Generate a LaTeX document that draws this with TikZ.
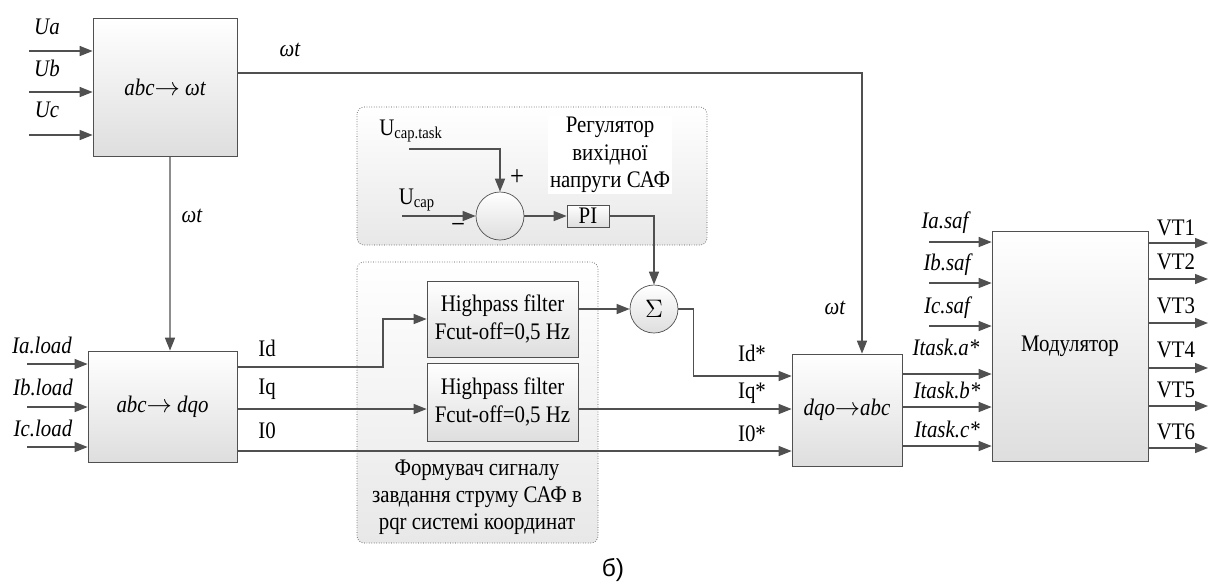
\documentclass[tikz,border=0pt]{standalone}
\usepackage{fontspec}
\setmainfont{Liberation Serif}[FakeStretch=0.88]
\newfontfamily\capfont{Liberation Sans}
\usepackage{tikz}
\usetikzlibrary{shapes, arrows.meta, positioning, calc}
\definecolor{wiregray}{RGB}{80, 80, 80}
\definecolor{shadegray}{RGB}{222, 222, 222}

\begin{document}
\begin{tikzpicture}[
  x=0.02cm, y=-0.02cm,
  blk/.style={draw=wiregray, top color=white, bottom color=shadegray, inner sep=0pt, font=\fontsize{13.5}{15.5}\selectfont, align=center},
  grp/.style={draw=wiregray, densely dotted, rounded corners=4pt, top color=white, bottom color=shadegray!70},
  sumc/.style={circle, draw=wiregray, top color=white, bottom color=shadegray, minimum size=0.96cm, inner sep=0pt, font=\fontsize{15}{17}\selectfont},
  lbl/.style={font=\fontsize{13.5}{15.5}\selectfont, inner sep=1pt},
  ilbl/.style={lbl, font=\fontsize{13.5}{15.5}\selectfont\itshape},
  sig/.style={draw=wiregray, thick, -{Triangle[length=2.6mm, width=2mm]}, fill=none},
  wire/.style={draw=wiregray, thick}
]
  \useasboundingbox (0,0) rectangle (1208,583);

  % groups
  \draw[grp] (357,107) rectangle (707,245);
  \draw[grp] (357,262) rectangle (598,543);
  \node[lbl, fill=white, align=center] (regtxt) at (610,155) {Регулятор\\вихідної\\напруги САФ};
  \node[lbl, align=center] (formtxt) at (477,497) {Формувач сигналу\\завдання струму САФ в\\pqr системі координат};

  % blocks
  \node[blk, minimum width=2.88cm, minimum height=2.76cm] (abcwt) at (165,87) {\itshape abc$\rightarrow$ ωt};
  \node[blk, minimum width=2.98cm, minimum height=2.22cm] (abcdqo) at (162.5,406.5) {\itshape abc$\rightarrow$ dqo};
  \node[blk, minimum width=3.02cm, minimum height=1.52cm] (hpf1) at (502.5,319) {Highpass filter\\Fcut-off=0,5 Hz};
  \node[blk, minimum width=3.02cm, minimum height=1.56cm] (hpf2) at (502.5,402) {Highpass filter\\Fcut-off=0,5 Hz};
  \node[blk, minimum width=2.2cm, minimum height=2.24cm] (dqoabc) at (847,410) {\itshape dqo$\rightarrow$abc};
  \node[blk, minimum width=3.12cm, minimum height=4.6cm] (mod) at (1070,346) {Модулятор};
  \node[blk, minimum width=0.84cm, minimum height=0.44cm] (pi) at (588,216) {PI};
  \node[sumc] (diff) at (500,216) {};
  \node[sumc] (sum) at (654,309) {$\Sigma$};

  % inputs of abc->wt
  \foreach \y/\n in {51/a, 92/b, 135/c} {
    \coordinate (u\n) at (29,\y);
    \draw[sig] (u\n) -- (u\n -| abcwt.west);
  }
  \node[ilbl] at (47,27) {Ua};
  \node[ilbl] at (47,68) {Ub};
  \node[ilbl] at (47,110) {Uc};

  % inputs of abc->dqo
  \foreach \y/\n in {364/a, 407/b, 447/c} {
    \coordinate (il\n) at (27,\y);
    \draw[sig] (il\n) -- (il\n -| abcdqo.west);
  }
  \node[ilbl] at (42,345) {Ia.load};
  \node[ilbl] at (43,387) {Ib.load};
  \node[ilbl] at (43,428) {Ic.load};

  % wt
  \draw[sig] (abcwt.east |- 0,73) -| ($(dqoabc.north)+(15,0)$);
  \draw[sig] ($(abcwt.south)+(5,0)$) -- ($(abcdqo.north)+(7.5,0)$);
  \node[ilbl] at (290,50) {ωt};
  \node[ilbl] at (192,216) {ωt};
  \node[ilbl] at (835,308) {ωt};

  % d, q, 0 channels
  \draw[sig] (abcdqo.east |- 0,367) -- (383,367) |- (hpf1.west);
  \draw[sig] (abcdqo.east |- 0,409) -- (hpf2.west |- 0,409);
  \draw[sig] (abcdqo.east |- 0,451) -- (dqoabc.west |- 0,451);
  \node[lbl] at (267,348) {Id};
  \node[lbl] at (267,389) {Iq};
  \node[lbl] at (267,431) {I0};

  \draw[sig] (hpf1.east |- sum.west) -- (sum.west);
  \draw[sig] (sum.east) -- ++(15,0) |- (dqoabc.west |- 0,376);
  \draw[sig] (hpf2.east |- 0,409) -- (dqoabc.west |- 0,409);
  \node[lbl] at (752,353) {Id*};
  \node[lbl] at (752,393) {Iq*};
  \node[lbl] at (752,434) {I0*};

  % capacitor voltage regulator
  \coordinate (ut) at (409,149);
  \coordinate (uc) at (402,216);
  \draw[sig] (ut) -| (diff.north);
  \draw[sig] (uc) -- (diff.west);
  \draw[sig] (diff.east) -- (pi.west);
  \draw[sig] (pi.east) -| (sum.north);
  \node[lbl] at (411,131) {U\textsubscript{cap.task}};
  \node[lbl] at (417,200) {U\textsubscript{cap}};
  \node[lbl, font=\fontsize{16}{18}\selectfont] at (517,178) {+};
  \node[lbl, font=\fontsize{16}{18}\selectfont] at (458,228) {−};

  % modulator inputs
  \foreach \y/\n in {242/a, 283/b, 326/c} {
    \coordinate (is\n) at (929,\y);
    \draw[sig] (is\n) -- (is\n -| mod.west);
  }
  \foreach \y in {374, 407, 446}
    \draw[sig] (dqoabc.east |- 0,\y) -- (mod.west |- 0,\y);
  \node[ilbl] at (945,223) {Ia.saf};
  \node[ilbl] at (947,265) {Ib.saf};
  \node[ilbl] at (947,308) {Ic.saf};
  \node[ilbl] at (946,347) {Itask.a*};
  \node[ilbl] at (947,390) {Itask.b*};
  \node[ilbl] at (947,429) {Itask.c*};

  % modulator outputs
  \foreach \y/\n in {243/1, 279/2, 323/3, 368/4, 406/5, 448/6} {
    \coordinate (vt\n) at (1208,\y);
    \draw[sig] (mod.east |- vt\n) -- (vt\n);
  }
  \node[lbl] at (1176,228) {VT1};
  \node[lbl] at (1176,262) {VT2};
  \node[lbl] at (1176,306) {VT3};
  \node[lbl] at (1176,350) {VT4};
  \node[lbl] at (1176,390) {VT5};
  \node[lbl] at (1176,432) {VT6};

  \node[lbl, font=\fontsize{14}{16}\capfont] (cap) at (613,570) {б)};
\end{tikzpicture}
\end{document}
